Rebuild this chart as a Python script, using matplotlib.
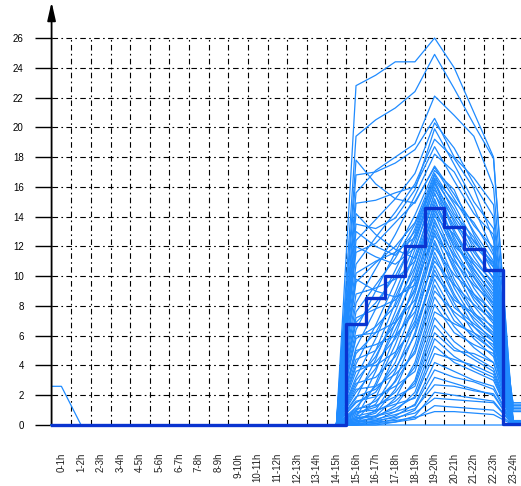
#!/usr/bin/env python3
import numpy as np
import matplotlib
matplotlib.use('Agg')
import matplotlib.pyplot as plt

hours = [f'{h}-{h+1}h' for h in range(24)]
y_ticks = list(range(0, 27, 2))

# one early curve (only the first hour is non zero)
early_curve = [2.6] + [0.0] * 23

# afternoon curves: values for 15-16h .. 23-24h, earlier hours are zero
late_curves = [
    [22.8, 23.5, 24.4, 24.4, 26.0, 24.0, 21.0, 18.0, 0.2],
    [19.4, 20.5, 21.3, 22.4, 24.9, 22.6, 20.2, 17.9, 0.1],
    [15.6, 17.1, 18.0, 18.9, 22.1, 20.8, 19.4, 16.0, 0.3],
    [16.8, 17.0, 17.6, 18.5, 20.6, 18.0, 16.6, 14.8, 0.0],
    [12.4, 13.8, 15.2, 16.9, 20.3, 18.6, 16.2, 14.0, 0.2],
    [13.5, 13.2, 13.9, 15.8, 19.9, 17.5, 15.0, 13.2, 0.1],
    [10.8, 12.6, 14.3, 16.2, 19.2, 17.9, 15.9, 12.4, 1.2],
    [14.9, 15.1, 15.6, 16.0, 18.7, 16.4, 14.2, 12.8, 0.0],
    [8.2, 10.5, 12.8, 15.4, 18.2, 17.0, 14.6, 11.6, 0.0],
    [17.8, 16.2, 15.2, 14.9, 17.4, 15.5, 13.4, 11.9, 0.2],
    [11.6, 12.2, 13.6, 15.0, 17.3, 15.2, 13.0, 11.0, 0.0],
    [6.4, 9.0, 11.6, 14.1, 17.1, 15.8, 12.8, 10.6, 0.1],
    [9.6, 10.9, 12.0, 13.6, 16.9, 14.8, 12.3, 10.9, 1.4],
    [5.2, 7.8, 10.4, 13.2, 16.8, 14.2, 12.6, 10.2, 0.0],
    [13.0, 12.0, 11.4, 13.0, 16.6, 15.0, 13.6, 11.4, 0.2],
    [4.1, 6.7, 9.6, 12.8, 16.5, 14.5, 11.8, 9.8, 0.0],
    [7.6, 9.4, 11.2, 13.5, 16.4, 13.6, 11.3, 9.4, 0.1],
    [3.2, 5.8, 8.9, 12.2, 16.3, 13.1, 10.8, 9.0, 0.0],
    [10.2, 11.0, 11.6, 12.6, 16.2, 14.0, 12.1, 10.6, 0.9],
    [2.6, 5.0, 8.2, 11.8, 16.0, 12.9, 10.5, 8.6, 0.0],
    [6.9, 8.2, 10.0, 12.5, 15.8, 13.8, 11.6, 9.9, 0.1],
    [1.8, 4.4, 7.6, 11.0, 15.6, 12.4, 10.0, 8.2, 0.0],
    [12.0, 11.3, 10.8, 11.9, 15.5, 13.4, 12.4, 10.8, 0.2],
    [4.8, 6.2, 8.6, 11.4, 15.2, 11.9, 9.6, 7.8, 0.0],
    [0.9, 3.6, 6.9, 10.4, 15.0, 12.6, 10.2, 8.4, 0.0],
    [8.8, 9.2, 9.8, 11.0, 14.8, 12.2, 10.4, 8.8, 1.1],
    [3.0, 4.6, 7.2, 10.0, 14.6, 11.6, 9.2, 7.4, 0.0],
    [5.8, 6.6, 8.0, 10.6, 14.4, 12.0, 10.8, 9.2, 0.1],
    [0.5, 2.8, 6.0, 9.6, 14.2, 11.2, 8.8, 7.0, 0.0],
    [14.2, 12.8, 11.8, 11.2, 14.0, 12.8, 11.0, 9.6, 0.0],
    [2.2, 3.8, 6.4, 9.2, 13.8, 10.8, 8.4, 6.8, 0.0],
    [7.2, 7.8, 8.4, 9.8, 13.6, 11.4, 9.9, 8.0, 0.2],
    [1.2, 2.6, 5.4, 8.8, 13.4, 10.4, 8.0, 6.4, 0.0],
    [4.4, 5.0, 6.8, 9.0, 13.1, 10.6, 8.6, 7.2, 1.5],
    [0.3, 1.8, 4.8, 8.2, 12.9, 9.8, 7.6, 6.0, 0.0],
    [9.8, 9.0, 8.6, 9.4, 12.7, 11.0, 9.4, 8.2, 0.1],
    [3.6, 4.2, 5.8, 8.0, 12.4, 9.5, 7.4, 6.2, 0.0],
    [1.5, 2.2, 4.2, 7.4, 12.2, 9.2, 7.0, 5.6, 0.0],
    [6.0, 6.2, 6.9, 8.4, 11.9, 10.1, 8.8, 7.6, 0.2],
    [0.7, 1.4, 3.6, 6.8, 11.6, 8.8, 6.6, 5.2, 0.0],
    [2.8, 3.2, 4.6, 7.0, 11.3, 8.6, 7.2, 6.0, 0.0],
    [5.0, 5.4, 6.0, 7.6, 11.0, 9.4, 8.1, 7.0, 1.0],
    [0.2, 1.0, 3.0, 6.2, 10.7, 8.2, 6.2, 5.0, 0.0],
    [1.9, 2.4, 3.8, 6.0, 10.4, 7.9, 6.8, 5.8, 0.0],
    [3.9, 4.0, 4.9, 6.6, 10.1, 8.4, 7.5, 6.6, 0.1],
    [0.4, 0.8, 2.4, 5.4, 9.8, 7.4, 5.8, 4.6, 0.0],
    [1.0, 1.6, 2.9, 5.0, 9.4, 7.0, 6.0, 5.0, 0.0],
    [2.4, 2.6, 3.4, 4.8, 9.0, 7.6, 6.6, 5.6, 0.2],
    [0.1, 0.6, 1.8, 4.2, 8.6, 6.6, 5.2, 4.2, 0.0],
    [0.8, 1.2, 2.2, 3.9, 8.1, 6.2, 5.4, 4.8, 0.0],
    [1.6, 1.9, 2.6, 3.6, 7.6, 6.8, 6.2, 5.4, 1.3],
    [0.2, 0.5, 1.3, 3.0, 7.2, 5.6, 4.6, 3.8, 0.0],
    [0.6, 0.9, 1.6, 2.8, 6.7, 5.2, 4.4, 3.6, 0.0],
    [1.1, 1.3, 1.9, 2.6, 6.2, 5.0, 4.8, 4.2, 0.0],
    [0.0, 0.3, 0.9, 2.2, 5.8, 4.6, 3.8, 3.2, 0.0],
    [0.4, 0.6, 1.1, 1.9, 5.3, 4.2, 3.6, 3.0, 0.1],
    [0.9, 1.0, 1.4, 1.8, 4.8, 4.4, 4.0, 3.4, 0.0],
    [0.1, 0.2, 0.6, 1.4, 4.2, 3.6, 3.0, 2.6, 0.0],
    [0.5, 0.6, 0.9, 1.3, 3.7, 3.2, 2.9, 2.4, 0.0],
    [0.0, 0.1, 0.4, 1.0, 3.2, 2.8, 2.4, 2.0, 0.0],
    [0.3, 0.4, 0.7, 1.1, 2.7, 2.6, 2.3, 2.1, 0.0],
    [0.0, 0.0, 0.2, 0.6, 2.2, 2.0, 1.8, 1.6, 0.0],
    [0.2, 0.3, 0.5, 0.8, 1.8, 1.7, 1.6, 1.5, 0.0],
    [0.0, 0.1, 0.2, 0.4, 1.3, 1.2, 1.1, 1.0, 0.0],
    [0.1, 0.2, 0.3, 0.5, 0.9, 0.9, 0.8, 0.7, 0.0],
]

# thick step curve
step_values = [0.0] * 15 + [6.8, 8.5, 10.0, 12.0, 14.6, 13.3, 11.8, 10.4, 0.1]

THIN = '#1f8bff'
THICK = '#0a34d0'

plt.rcParams['font.family'] = ['Liberation Sans', 'DejaVu Sans']

fig = plt.figure(figsize=(5.21, 4.86), dpi=100)
ax = fig.add_axes([0.099, 0.1255, 0.901, 0.8704])

x = np.arange(len(hours))
x_ext = np.r_[-0.5, x, 23.5]

def extend(vals):
    vals = list(vals)
    return [vals[0]] + vals + [vals[-1]]

curves = [early_curve] + [[0.0] * 15 + c for c in late_curves]
for c in curves:
    ax.plot(x_ext, extend(c), color=THIN, lw=0.9, clip_on=False, zorder=3)

ax.plot(x_ext, extend(step_values), color=THICK, lw=2.4,
        drawstyle='steps-mid', clip_on=False, zorder=4)

# grid (only up to the top tick)
grid_style = dict(color='black', lw=0.8, linestyle=(0, (5, 3, 1.5, 3)), zorder=1)
ax.vlines(x[:-1] + 0.5, 0, y_ticks[-1], **grid_style)
ax.hlines(y_ticks[1:], -0.5, 23.5, **grid_style)

ax.set_xlim(-0.5, 23.4)
ax.set_ylim(0, 28.42)

ax.set_xticks(x)
ax.set_xticklabels(hours, rotation=90, va='top', ha='center', fontsize=7)
ax.tick_params(axis='x', length=0, pad=20, colors='#222222')
ax.set_yticks(y_ticks)
ax.set_yticklabels([str(v) for v in y_ticks], fontsize=7)
ax.tick_params(axis='y', length=12, width=1.0, pad=8, colors='black')

for s in ['top', 'right', 'bottom', 'left']:
    ax.spines[s].set_visible(False)

# y axis with arrow head
ax.annotate('', xy=(0, 1), xycoords='axes fraction', xytext=(0, 0),
            textcoords='axes fraction',
            arrowprops=dict(arrowstyle='-|>,head_length=1.1,head_width=0.25',
                            mutation_scale=10, color='black', lw=1.3,
                            shrinkA=0, shrinkB=0))

fig.savefig('out.png', dpi=100)
